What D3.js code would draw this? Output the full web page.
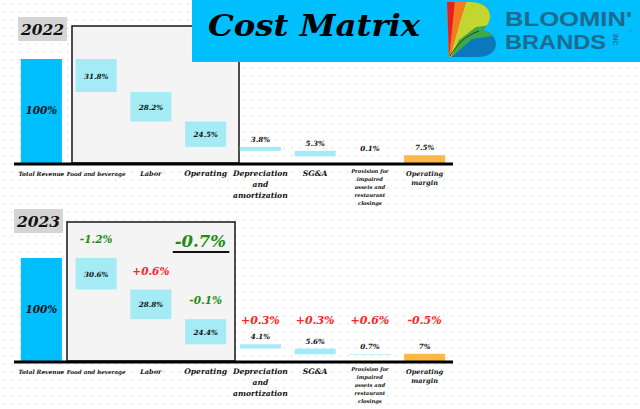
<!DOCTYPE html>
<html><head><meta charset="utf-8">
<script src="https://cdn.jsdelivr.net/npm/d3@7"></script>
<style>html,body{margin:0;padding:0;background:#fff;}svg{display:block}</style>
</head><body><svg id="c" width="640" height="409"></svg>
<script>
// ---------- data ----------
const categories = ["Total Revenue","Food and beverage","Labor","Operating","Depreciation and amortization","SG&A","Provision for impaired assets and restaurant closings","Operating margin"];
const categoryLines = [["Total Revenue"],["Food and beverage"],["Labor"],["Operating"],["Depreciation","and","amortization"],["SG&A"],["Provision for","impaired","assets and","restaurant","closings"],["Operating","margin"]];
const years = ["2022","2023"];
const values2022 = [100,31.8,28.2,24.5,3.8,5.3,0.1,7.5];
const values2023 = [100,30.6,28.8,24.4,4.1,5.6,0.7,7];
const changes2023 = [null,-1.2,0.6,-0.1,0.3,0.3,0.6,-0.5];
const operatingCostChange = -0.7;
const title = "Cost Matrix";
const logoLines = ["BLOOMIN'","BRANDS"];

// ---------- styles ----------
const SERIF = "'DejaVu Serif', serif";
const C_TOTAL = "#00bfff", C_COST = "#a5ebf5", C_MARGIN = "#ffb848";
const C_GREEN = "#1f8c14", C_RED = "#ff2424";
const labelSizes = [5.8,5.6,6.6,7.6,7.6,7.6,5.2,6.6];

const svg = d3.select("#c");
const defs = svg.append("defs");
const pat = defs.append("pattern").attr("id","dots").attr("width",8).attr("height",8).attr("patternUnits","userSpaceOnUse");
pat.append("circle").attr("cx",4).attr("cy",4).attr("r",0.9).attr("fill","#e4e4e4");
svg.append("rect").attr("width",640).attr("height",409).attr("fill","#fff");
svg.append("rect").attr("width",640).attr("height",409).attr("fill","url(#dots)");

const x = d3.scaleBand().domain(categories).range([14,452]).paddingInner(0.25).paddingOuter(0.125);
const fmtVal = d3.format("~g");
const fmtChg = v => (v > 0 ? "+" : "-") + Math.abs(v).toFixed(1) + "%";

const panels = [
  {year: years[0], values: values2022, changes: null, base: 163, top: 59, yb: [18,17], box: [72,26,239]},
  {year: years[1], values: values2023, changes: changes2023, base: 361, top: 258, yb: [14,209], box: [67,222,235]}
];

const boxesG = svg.append("g");
const titleG = svg.append("g");
const chartG = svg.append("g");

panels.forEach(p => {
  const y = d3.scaleLinear().domain([0,100]).range([p.base, p.top]);
  let cum = p.values[0];
  const n = p.values.length;
  const rows = p.values.map((v,i) => {
    let r;
    if (i === 0 || i === n-1) r = {i, v, y0: 0, y1: v};
    else { r = {i, v, y0: cum - v, y1: cum}; cum -= v; }
    r.kind = i === 0 ? "total" : (i === n-1 ? "margin" : "cost");
    return r;
  });

  boxesG.append("rect")
    .attr("x", p.box[0]).attr("y", p.box[1])
    .attr("width", p.box[2]-p.box[0]).attr("height", p.base - p.box[1])
    .attr("fill","#f4f4f4").attr("stroke","#222").attr("stroke-width",1.6);

  const g = chartG.append("g");
  g.append("rect").attr("x",p.yb[0]).attr("y",p.yb[1]).attr("width",49).attr("height",24).attr("fill","#d5d5d5");
  g.append("text").attr("x",p.yb[0]+24.5).attr("y",p.yb[1]+17.5).attr("text-anchor","middle")
    .attr("font-family",SERIF).attr("font-weight","bold").attr("font-style","italic").attr("font-size",15.5)
    .attr("fill","#111").text(p.year);

  g.selectAll("rect.bar").data(rows).join("rect").attr("class","bar")
    .attr("x", d => x(categories[d.i])).attr("width", x.bandwidth())
    .attr("y", d => y(d.y1)).attr("height", d => Math.max(0, y(d.y0) - y(d.y1)))
    .attr("fill", d => d.kind === "total" ? C_TOTAL : d.kind === "margin" ? C_MARGIN : C_COST);

  rows.forEach(d => {
    const cx = x(categories[d.i]) + x.bandwidth()/2;
    const inside = d.v > 20;
    const yy = inside ? (y(d.y0)+y(d.y1))/2 + 3 : y(d.y1) - 5;
    d.labelY = yy;
    g.append("text").attr("x",cx).attr("y",yy).attr("text-anchor","middle")
      .attr("font-family",SERIF).attr("font-weight","bold").attr("font-style","italic")
      .attr("font-size", d.kind === "total" ? 10.5 : 7.2).attr("fill","#111")
      .text(fmtVal(d.v) + "%");
  });

  if (p.changes) {
    const rightY = d3.min(rows.filter(d => d.i >= 4), d => d.labelY) - 15;
    rows.forEach(d => {
      const c = p.changes[d.i];
      if (c == null) return;
      const good = d.kind === "margin" ? c > 0 : c < 0;
      const cx = x(categories[d.i]) + x.bandwidth()/2;
      const yy = d.i < 4 ? y(d.y1) - 15 : rightY;
      g.append("text").attr("x",cx).attr("y",yy).attr("text-anchor","middle")
        .attr("font-family",SERIF).attr("font-weight","bold").attr("font-style","italic")
        .attr("font-size", d.i < 4 ? 10.5 : 11).attr("fill", good ? C_GREEN : C_RED)
        .text(fmtChg(c));
    });
    const t = g.append("text").attr("x", p.box[2]-9).attr("y", p.box[1]+25).attr("text-anchor","end")
      .attr("font-family",SERIF).attr("font-weight","bold").attr("font-style","italic")
      .attr("font-size",16.5).attr("fill", operatingCostChange < 0 ? C_GREEN : C_RED)
      .text(fmtChg(operatingCostChange));
    const bb = t.node().getBBox();
    g.append("line").attr("x1",bb.x-2).attr("x2",bb.x+bb.width+3)
      .attr("y1",p.box[1]+30).attr("y2",p.box[1]+30).attr("stroke","#111").attr("stroke-width",2);
  }

  categoryLines.forEach((lines,i) => {
    const cx = x(categories[i]) + x.bandwidth()/2;
    const fs = labelSizes[i];
    const lh = i === 6 ? 8 : (i === 4 ? 11 : 9.5);
    const t = g.append("text").attr("text-anchor","middle")
      .attr("font-family",SERIF).attr("font-weight","bold").attr("font-style","italic")
      .attr("font-size",fs).attr("fill","#111");
    lines.forEach((ln,k) => t.append("tspan").attr("x",cx).attr("y", p.base + (i===6 ? 10 : 12.5) + k*lh).text(ln));
  });

  g.append("line").attr("x1",14).attr("x2",453).attr("y1",p.base+1).attr("y2",p.base+1)
    .attr("stroke","#000").attr("stroke-width",3);
});

// ---------- title banner ----------
titleG.append("rect").attr("x",192).attr("y",0).attr("width",448).attr("height",62).attr("fill","#00bfff");
titleG.append("text").attr("x",208).attr("y",36).attr("font-family",SERIF).attr("font-weight","bold")
  .attr("font-style","italic").attr("font-size",29).attr("fill","#000")
  .attr("textLength",212).attr("lengthAdjust","spacingAndGlyphs").text(title);

// logo mark (stylised B)
const clip = defs.append("clipPath").attr("id","bclip");
clip.append("path").attr("d","M447,2 L470,2 C484,2 491,9 490,18 C489,24 486,27 482,30 C492,32 496,38 496,45 C495,53 488,57 478,57 L449,57 Z");
const lg = titleG.append("g").attr("clip-path","url(#bclip)");
const layersB = [
  ["#0b78bd",[[440,0],[500,0],[500,60],[440,60]]],
  ["#3fa846",[[440,0],[500,0],[500,35],[472,39],[453,56],[440,57]]],
  ["#c3d62f",[[440,0],[500,0],[500,24],[476,27],[459,40],[451,57],[440,57]]],
  ["#f47c20",[[440,0],[467,0],[460,22],[454,44],[450,57],[440,57]]],
  ["#e3201f",[[440,0],[455,0],[452,30],[449,57],[440,57]]]
];
layersB.forEach(([col,pts]) => {
  lg.append("path").attr("d","M"+pts.map(q=>q.join(",")).join("L")+"Z").attr("fill",col);
});
lg.append("path").attr("d","M450,56 C457,44 465,36 479,31").attr("fill","none").attr("stroke","#1d3b2a").attr("stroke-width",0.9);

const LOGO = "#1c6b8f";
const LOGOFONT = "'Liberation Sans', Arial, sans-serif";
titleG.append("text").attr("x",505).attr("y",26).attr("font-family",LOGOFONT)
  .attr("font-weight",700).attr("font-size",20).attr("fill",LOGO)
  .attr("textLength",127).attr("lengthAdjust","spacingAndGlyphs").text(logoLines[0]);
titleG.append("text").attr("x",505).attr("y",48.6).attr("font-family",LOGOFONT)
  .attr("font-weight",700).attr("font-size",20).attr("fill",LOGO)
  .attr("textLength",101).attr("lengthAdjust","spacingAndGlyphs").text(logoLines[1]);
titleG.append("text").attr("transform","translate(613,34) rotate(90)")
  .attr("font-family",LOGOFONT).attr("font-weight",700).attr("font-size",6.5).attr("fill",LOGO).text("INC");
titleG.append("text").attr("x",630).attr("y",32).attr("font-family",LOGOFONT)
  .attr("font-size",4).attr("fill",LOGO).text("®");
</script></body></html>
